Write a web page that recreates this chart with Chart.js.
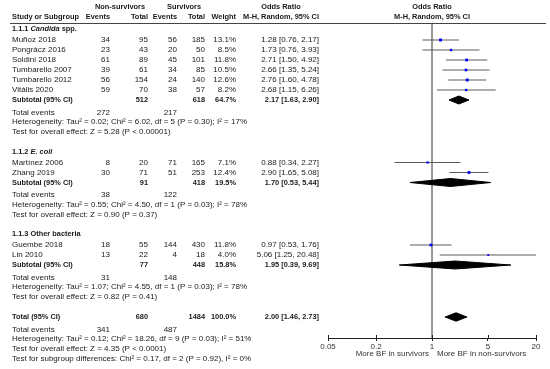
<!DOCTYPE html>
<html>
<head>
<meta charset="utf-8">
<script src="https://cdn.jsdelivr.net/npm/chart.js@4.4.0/dist/chart.umd.min.js"></script>
<style>
  body { margin: 0; background: #fff; }
  #wrap { width: 550px; height: 369px; }
</style>
</head>
<body>
<div id="wrap"><canvas id="forest" width="550" height="369"></canvas></div>
<script>
// Dades dels estudis
const studies = ['Muñoz 2018', 'Pongrácz 2016', 'Soldini 2018', 'Tumbarello 2007', 'Tumbarello 2012', 'Vitális 2020', 'Martínez 2006', 'Zhang 2019', 'Guembe 2018', 'Lin 2010'];
const studyGroup = [0, 0, 0, 0, 0, 0, 1, 1, 2, 2];
const nsEvents = [34, 23, 61, 39, 56, 59, 8, 30, 18, 13];
const nsTotal = [95, 43, 89, 61, 154, 70, 20, 71, 55, 22];
const sEvents = [56, 20, 45, 34, 24, 38, 71, 51, 144, 4];
const sTotal = [185, 50, 101, 85, 140, 57, 165, 253, 430, 18];
const weights = [13.1, 8.5, 11.8, 10.5, 12.6, 8.2, 7.1, 12.4, 11.8, 4.0];
const orEst = [1.28, 1.73, 2.71, 2.66, 2.76, 2.68, 0.88, 2.90, 0.97, 5.06];
const orLow = [0.76, 0.76, 1.50, 1.35, 1.60, 1.15, 0.34, 1.65, 0.53, 1.25];
const orHigh = [2.17, 3.93, 4.92, 5.24, 4.78, 6.26, 2.27, 5.08, 1.76, 20.48];

// Subgrups
const groupTitles = [
  [['1.1.1 ', false], ['Candida', true], [' spp.', false]],
  [['1.1.2 ', false], ['E. coli', true]],
  [['1.1.3 Other bacteria', false]]
];
const subNsTotal = [512, 91, 77];
const subSTotal = [618, 418, 448];
const subNsEvents = [272, 38, 31];
const subSEvents = [217, 122, 148];
const subWeight = ['64.7%', '19.5%', '15.8%'];
const subEst = [2.17, 1.70, 1.95];
const subLow = [1.63, 0.53, 0.39];
const subHigh = [2.90, 5.44, 9.69];
const subHet = [
  'Heterogeneity: Tau² = 0.02; Chi² = 6.02, df = 5 (P = 0.30); I² = 17%',
  'Heterogeneity: Tau² = 0.55; Chi² = 4.50, df = 1 (P = 0.03); I² = 78%',
  'Heterogeneity: Tau² = 1.07; Chi² = 4.55, df = 1 (P = 0.03); I² = 78%'
];
const subTest = [
  'Test for overall effect: Z = 5.28 (P < 0.00001)',
  'Test for overall effect: Z = 0.90 (P = 0.37)',
  'Test for overall effect: Z = 0.82 (P = 0.41)'
];

// Total
const totNsTotal = 680;
const totSTotal = 1484;
const totNsEvents = 341;
const totSEvents = 487;
const totWeight = '100.0%';
const totEst = 2.00;
const totLow = 1.46;
const totHigh = 2.73;
const totHet = 'Heterogeneity: Tau² = 0.12; Chi² = 18.26, df = 9 (P = 0.03); I² = 51%';
const totTest = 'Test for overall effect: Z = 4.35 (P < 0.0001)';
const totSubgroup = 'Test for subgroup differences: Chi² = 0.17, df = 2 (P = 0.92), I² = 0%';

// Eix X
const xTicks = [0.05, 0.2, 1, 5, 20];
const xLabelLeft = 'More BF in survivors';
const xLabelRight = 'More BF in non-survivors';

// columnes (x de la vora dreta)
const COL = { study: 12, ev1: 110, tot1: 148, ev2: 177, tot2: 205, weight: 236, or: 319 };
const FONT = '"Liberation Sans", Arial, sans-serif';
const TXT = '#1a1a1a';
const SIZE = 8, BSIZE = 7.4;

// construeix les files (u = unitat de fila)
let rows = [];
let u = 0;
groupTitles.forEach((g, gi) => {
  if (gi > 0) u += 1.95;
  rows.push({ u: u, type: 'head', gi: gi });
  u += 1.1;
  studies.forEach((s, i) => {
    if (studyGroup[i] === gi) {
      rows.push({ u: u, type: 'study', i: i });
      u += 1;
    }
  });
  rows.push({ u: u, type: 'sub', gi: gi });
  u += 1.25;
  rows.push({ u: u, type: 'events', gi: gi });
  u += 0.95;
  rows.push({ u: u, type: 'het', gi: gi });
  u += 1;
  rows.push({ u: u, type: 'test', gi: gi });
});
u += 2.0;
rows.push({ u: u, type: 'total' });
u += 1.25;
rows.push({ u: u, type: 'totEvents' });
u += 0.95;
rows.push({ u: u, type: 'totHet' });
u += 1;
rows.push({ u: u, type: 'totTest' });
u += 1;
rows.push({ u: u, type: 'totSubgroup' });

function fmt(v) { return v.toFixed(2); }
function orText(e, l, h) { return `${fmt(e)} [${fmt(l)}, ${fmt(h)}]`; }

// datasets
let datasets = [];
const Y_MIN = -0.6, Y_MAX = 30.9;

// linia vertical en OR = 1
datasets.push({
  data: [{ x: 1, y: Y_MIN }, { x: 1, y: Y_MAX }],
  showLine: true, borderColor: '#8a8a8a', borderWidth: 1, pointRadius: 0, order: 5
});

let sqPoints = [], sqRadius = [];
rows.filter(r => r.type === 'study').forEach(r => {
  const i = r.i;
  datasets.push({
    data: [{ x: orLow[i], y: r.u }, { x: orHigh[i], y: r.u }],
    showLine: true, borderColor: '#5c5c5c', borderWidth: 1, pointRadius: 0, order: 3
  });
  sqPoints.push({ x: orEst[i], y: r.u });
  sqRadius.push(1 + weights[i] * 0.08);
});
datasets.push({
  data: sqPoints, pointStyle: 'rect', pointRadius: sqRadius,
  backgroundColor: '#0000ff', borderColor: '#0000ff', borderWidth: 0, order: 1
});

function diamond(e, l, h, yy, hh) {
  return {
    data: [{ x: l, y: yy }, { x: e, y: yy - hh }, { x: h, y: yy }, { x: e, y: yy + hh }, { x: l, y: yy }],
    showLine: true, fill: 'shape', backgroundColor: '#000', borderColor: '#000',
    borderWidth: 1, pointRadius: 0, tension: 0, order: 2
  };
}
rows.filter(r => r.type === 'sub').forEach(r => {
  datasets.push(diamond(subEst[r.gi], subLow[r.gi], subHigh[r.gi], r.u, 0.4));
});
rows.filter(r => r.type === 'total').forEach(r => {
  datasets.push(diamond(totEst, totLow, totHigh, r.u, 0.42));
});

// text de la taula
function txt(ctx, s, x, y, align, bold) {
  ctx.font = (bold ? 'bold ' + BSIZE : SIZE) + 'px ' + FONT;
  ctx.textAlign = align;
  ctx.fillText(s, x, y);
}

const tablePlugin = {
  id: 'tablePlugin',
  afterDraw(chart) {
    const ctx = chart.ctx;
    const ys = chart.scales.y;
    const xs = chart.scales.x;
    const area = chart.chartArea;
    const x1 = xs.getPixelForValue(1);
    ctx.save();
    ctx.fillStyle = TXT;
    ctx.textBaseline = 'middle';

    // capçalera
    txt(ctx, 'Non-survivors', 120, 7, 'center', true);
    txt(ctx, 'Survivors', 184, 7, 'center', true);
    txt(ctx, 'Odds Ratio', 281, 7, 'center', true);
    txt(ctx, 'Odds Ratio', x1, 7, 'center', true);
    txt(ctx, 'Study or Subgroup', COL.study, 17, 'left', true);
    txt(ctx, 'Events', COL.ev1, 17, 'right', true);
    txt(ctx, 'Total', COL.tot1, 17, 'right', true);
    txt(ctx, 'Events', COL.ev2, 17, 'right', true);
    txt(ctx, 'Total', COL.tot2, 17, 'right', true);
    txt(ctx, 'Weight', COL.weight, 17, 'right', true);
    txt(ctx, 'M-H, Random, 95% CI', COL.or, 17, 'right', true);
    txt(ctx, 'M-H, Random, 95% CI', x1, 17, 'center', true);

    ctx.strokeStyle = '#444';
    ctx.lineWidth = 1;
    ctx.beginPath();
    ctx.moveTo(10, Math.round(area.top) + 0.5);
    ctx.lineTo(546, Math.round(area.top) + 0.5);
    ctx.stroke();

    // marques de l'eix creuant la linia
    ctx.strokeStyle = '#222';
    xTicks.forEach(v => {
      const px = Math.round(xs.getPixelForValue(v)) + 0.5;
      ctx.beginPath();
      ctx.moveTo(px, area.bottom - 3);
      ctx.lineTo(px, area.bottom);
      ctx.stroke();
    });

    rows.forEach(r => {
      const y = ys.getPixelForValue(r.u);
      if (r.type === 'head') {
        let x = COL.study;
        groupTitles[r.gi].forEach(part => {
          ctx.font = (part[1] ? 'italic bold ' : 'bold ') + BSIZE + 'px ' + FONT;
          ctx.textAlign = 'left';
          ctx.fillText(part[0], x, y);
          x += ctx.measureText(part[0]).width;
        });
      } else if (r.type === 'study') {
        const i = r.i;
        txt(ctx, studies[i], COL.study, y, 'left', false);
        txt(ctx, String(nsEvents[i]), COL.ev1, y, 'right', false);
        txt(ctx, String(nsTotal[i]), COL.tot1, y, 'right', false);
        txt(ctx, String(sEvents[i]), COL.ev2, y, 'right', false);
        txt(ctx, String(sTotal[i]), COL.tot2, y, 'right', false);
        txt(ctx, weights[i].toFixed(1) + '%', COL.weight, y, 'right', false);
        txt(ctx, orText(orEst[i], orLow[i], orHigh[i]), COL.or, y, 'right', false);
      } else if (r.type === 'sub') {
        const g = r.gi;
        txt(ctx, 'Subtotal (95% CI)', COL.study, y, 'left', true);
        txt(ctx, String(subNsTotal[g]), COL.tot1, y, 'right', true);
        txt(ctx, String(subSTotal[g]), COL.tot2, y, 'right', true);
        txt(ctx, subWeight[g], COL.weight, y, 'right', true);
        txt(ctx, orText(subEst[g], subLow[g], subHigh[g]), COL.or, y, 'right', true);
      } else if (r.type === 'events') {
        txt(ctx, 'Total events', COL.study, y, 'left', false);
        txt(ctx, String(subNsEvents[r.gi]), COL.ev1, y, 'right', false);
        txt(ctx, String(subSEvents[r.gi]), COL.ev2, y, 'right', false);
      } else if (r.type === 'het') {
        txt(ctx, subHet[r.gi], COL.study, y, 'left', false);
      } else if (r.type === 'test') {
        txt(ctx, subTest[r.gi], COL.study, y, 'left', false);
      } else if (r.type === 'total') {
        txt(ctx, 'Total (95% CI)', COL.study, y, 'left', true);
        txt(ctx, String(totNsTotal), COL.tot1, y, 'right', true);
        txt(ctx, String(totSTotal), COL.tot2, y, 'right', true);
        txt(ctx, totWeight, COL.weight, y, 'right', true);
        txt(ctx, orText(totEst, totLow, totHigh), COL.or, y, 'right', true);
      } else if (r.type === 'totEvents') {
        txt(ctx, 'Total events', COL.study, y, 'left', false);
        txt(ctx, String(totNsEvents), COL.ev1, y, 'right', false);
        txt(ctx, String(totSEvents), COL.ev2, y, 'right', false);
      } else if (r.type === 'totHet') {
        txt(ctx, totHet, COL.study, y, 'left', false);
      } else if (r.type === 'totTest') {
        txt(ctx, totTest, COL.study, y, 'left', false);
      } else if (r.type === 'totSubgroup') {
        txt(ctx, totSubgroup, COL.study, y, 'left', false);
      }
    });

    // etiquetes sota l'eix
    ctx.fillStyle = '#333';
    txt(ctx, xLabelLeft, x1 - 3, 354, 'right', false);
    txt(ctx, xLabelRight, x1 + 5, 354, 'left', false);
    ctx.restore();
  }
};

new Chart(document.getElementById('forest'), {
  type: 'scatter',
  data: { datasets: datasets },
  options: {
    responsive: false,
    animation: false,
    devicePixelRatio: 1,
    layout: { padding: { left: 328, right: 14, top: 23, bottom: 13 } },
    plugins: { legend: { display: false }, tooltip: { enabled: false } },
    scales: {
      x: {
        type: 'logarithmic',
        min: 0.05,
        max: 20,
        afterBuildTicks: (s) => { s.ticks = xTicks.map(v => ({ value: v })); },
        afterFit: (s) => { s.height = 18; },
        ticks: {
          autoSkip: false, maxRotation: 0, padding: 1,
          color: '#333', font: { size: 8, family: FONT },
          callback: (v) => String(v)
        },
        grid: { drawOnChartArea: false, drawTicks: true, tickLength: 3, color: '#222' },
        border: { display: true, color: '#222', width: 1 }
      },
      y: {
        type: 'linear',
        min: Y_MIN,
        max: Y_MAX,
        reverse: true,
        display: false
      }
    }
  },
  plugins: [tablePlugin]
});
</script>
</body>
</html>
